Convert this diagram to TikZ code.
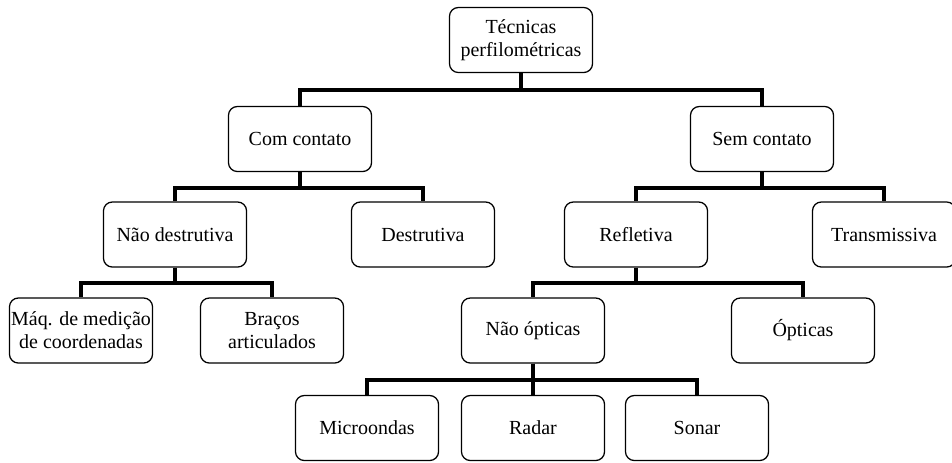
\documentclass[tikz,border=0pt]{standalone}
\usepackage{fontspec}
\setmainfont{Liberation Serif}
\usepackage{tikz}
\usetikzlibrary{positioning}

\tikzset{
    caixa/.style={draw, line width=0.9pt, rounded corners=0.22cm,
        minimum width=3.575cm, minimum height=1.625cm, inner sep=0pt,
        align=center, font=\fontsize{14.2}{16.4}\selectfont},
    ramo/.style={line width=2.9pt}
}

\begin{document}
\begin{tikzpicture}[x=0.025cm, y=-0.025cm]
            \useasboundingbox (0,0) rectangle (952,462);
            % niveis
            \node[caixa] (tec) at (521,40) {Técnicas\\perfilométricas};
            \node[caixa] (com) at (300,139) {Com contato};
            \node[caixa] (sem) at (762,139) {Sem contato};
            \node[caixa] (naodes) at (175,234.5) {Não destrutiva};
            \node[caixa] (des) at (423,234.5) {Destrutiva};
            \node[caixa] (ref) at (636,234.5) {Refletiva};
            \node[caixa] (trans) at (884,234.5) {Transmissiva};
            \node[caixa] (maq) at (81,330.5) {Máq. de medição\\de coordenadas};
            \node[caixa] (bra) at (272,330.5) {Braços\\articulados};
            \node[caixa] (naoopt) at (533,330.5) {Não ópticas};
            \node[caixa] (opt) at (803,330.5) {Ópticas};
            \node[caixa] (mic) at (367,428) {Microondas};
            \node[caixa] (rad) at (533,428) {Radar};
            \node[caixa] (son) at (697,428) {Sonar};
            % ramos
            \draw[ramo] (tec.south) -- ++(0,17) -| (com.north);
            \draw[ramo] (tec.south) -- ++(0,17) -| (sem.north);
            \draw[ramo] (com.south) -- ++(0,15.5) -| (naodes.north);
            \draw[ramo] (com.south) -- ++(0,15.5) -| (des.north);
            \draw[ramo] (sem.south) -- ++(0,15.5) -| (ref.north);
            \draw[ramo] (sem.south) -- ++(0,15.5) -| (trans.north);
            \draw[ramo] (naodes.south) -- ++(0,15.5) -| (maq.north);
            \draw[ramo] (naodes.south) -- ++(0,15.5) -| (bra.north);
            \draw[ramo] (ref.south) -- ++(0,15.5) -| (naoopt.north);
            \draw[ramo] (ref.south) -- ++(0,15.5) -| (opt.north);
            \draw[ramo] (naoopt.south) -- ++(0,16.5) -| (mic.north);
            \draw[ramo] (naoopt.south) -- (rad.north);
            \draw[ramo] (naoopt.south) -- ++(0,16.5) -| (son.north);
        \end{tikzpicture}
\end{document}
